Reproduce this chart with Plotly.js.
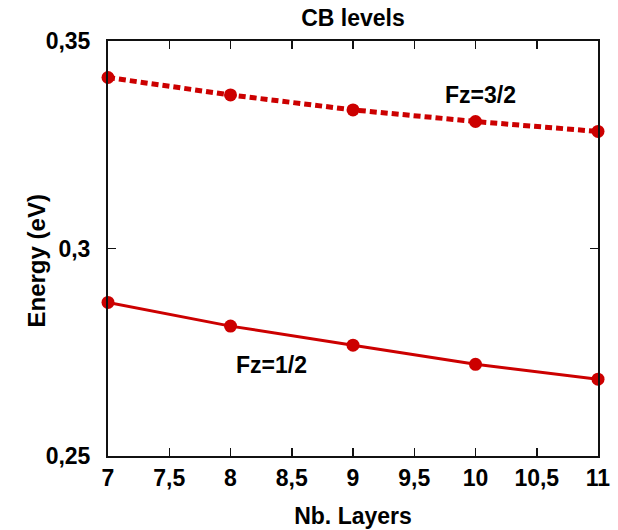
<!DOCTYPE html>
<html>
<head>
<meta charset="utf-8">
<script src="https://cdn.plot.ly/plotly-3.0.1.min.js"></script>
<style>html,body{margin:0;padding:0;background:#fff;}#chart{width:618px;height:530px;}</style>
</head>
<body>
<div id="chart"></div>
<script>
const layers = [7, 8, 9, 10, 11];
const fz32 = [0.3412, 0.3370, 0.3334, 0.3306, 0.3282];
const fz12 = [0.2870, 0.2813, 0.2767, 0.2721, 0.2685];
const xTicks = [7, 7.5, 8, 8.5, 9, 9.5, 10, 10.5, 11];
const yTicks = [0.25, 0.3, 0.35];
const labels = ["Fz=3/2", "Fz=1/2"];

const red = "#cc0000";
const FONT = "Liberation Sans, Arial, sans-serif";
const fmt = v => "<b>" + String(v).replace(".", ",") + "</b>";

const traces = [
  {x: layers, y: fz32, mode: "lines+markers", name: labels[0], cliponaxis: false,
   line: {color: red, width: 5, dash: "7px,4px"},
   marker: {color: red, size: 13, symbol: "circle"}},
  {x: layers, y: fz12, mode: "lines+markers", name: labels[1], cliponaxis: false,
   line: {color: red, width: 3},
   marker: {color: red, size: 13, symbol: "circle"}}
];

const axisCommon = {
  showgrid: false, zeroline: false, showline: true, linecolor: "#111", linewidth: 2,
  mirror: "ticks", ticks: "inside", ticklen: 8, tickwidth: 1.5, tickcolor: "#111",
  tickfont: {family: FONT, size: 23, color: "#000", weight: "bold"}
};

const layout = {
  width: 618, height: 530,
  margin: {l: 108, r: 20, t: 41, b: 74},
  paper_bgcolor: "#fff", plot_bgcolor: "#fff",
  showlegend: false,
  separators: ",.",
  title: {text: "<b>CB levels</b>", font: {family: FONT, size: 23, color: "#000"},
          x: 0.5, xanchor: "center", xref: "paper", y: 0.967, yanchor: "middle", yref: "container"},
  xaxis: Object.assign({}, axisCommon, {
    range: [7, 11], tickvals: xTicks, ticktext: xTicks.map(fmt),
    title: {text: "<b>Nb. Layers</b>", font: {family: FONT, size: 23, color: "#000"}, standoff: 18}
  }),
  yaxis: Object.assign({}, axisCommon, {
    range: [0.25, 0.35], tickvals: yTicks, ticktext: yTicks.map(fmt), ticklabelstandoff: 11
  }),
  annotations: [
    {x: -0.145, y: 0.471, xref: "paper", yref: "paper", text: "<b>Energy (eV)</b>", showarrow: false,
     textangle: -90, xanchor: "center", yanchor: "middle",
     font: {family: FONT, size: 24, color: "#000"}},
    {x: 10.04, y: 0.337, xref: "x", yref: "y", text: "<b>" + labels[0] + "</b>", showarrow: false,
     font: {family: FONT, size: 23, color: "#000"}},
    {x: 8.335, y: 0.2719, xref: "x", yref: "y", text: "<b>" + labels[1] + "</b>", showarrow: false,
     font: {family: FONT, size: 23, color: "#000"}}
  ]
};

Plotly.newPlot("chart", traces, layout, {displayModeBar: false, staticPlot: true});
</script>
</body>
</html>
